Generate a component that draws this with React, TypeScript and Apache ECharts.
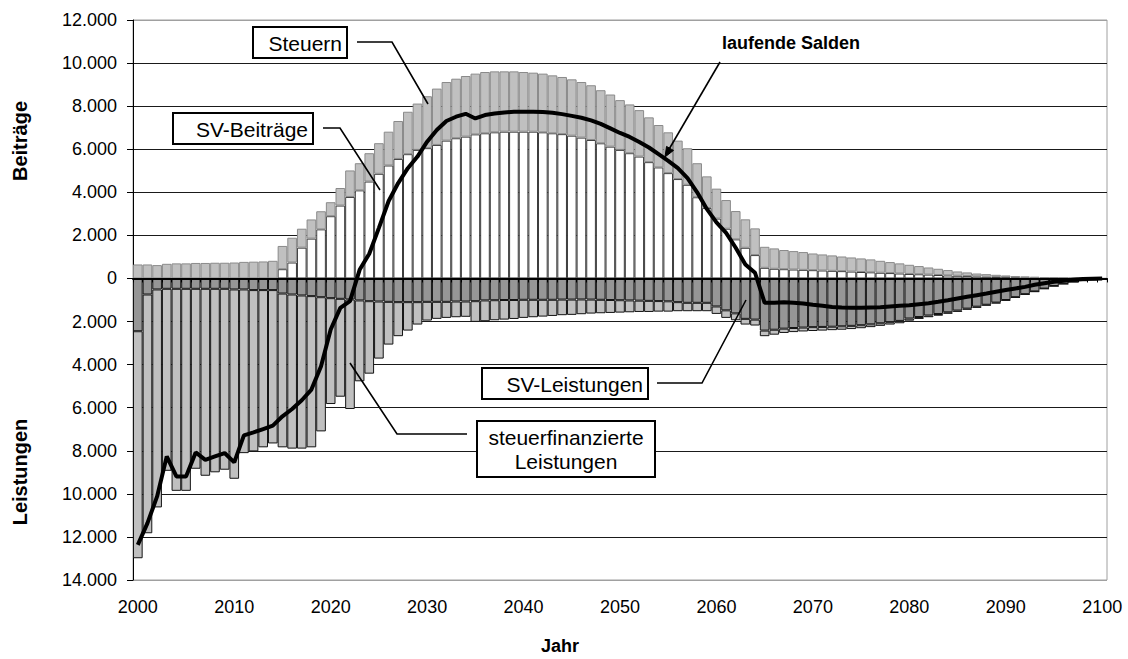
import React, { useEffect, useRef } from "react";
import * as echarts from "echarts";

const years: string[] = Array.from({ length: 101 }, (_, i) => String(2000 + i));

// SV-Beiträge (white, positive)
const svBeitraege = [
  0, 0, 0, 0, 0, 0, 0, 0, 0, 0,
  0, 0, 0, 0, 0, 430, 740, 1430, 1850, 2280,
  2890, 3385, 3785, 4090, 4500, 4860, 5245, 5550, 5770, 5970,
  6050, 6200, 6400, 6510, 6585, 6690, 6740, 6785, 6815, 6815,
  6815, 6815, 6785, 6740, 6700, 6630, 6540, 6430, 6275, 6120,
  5970, 5815, 5660, 5400, 5155, 4890, 4615, 4350, 3770, 3275,
  2780, 2310, 1815, 1425, 1085, 495, 450, 430, 415, 400,
  385, 370, 355, 340, 320, 300, 285, 265, 250, 230,
  210, 195, 180, 160, 140, 125, 110, 95, 80, 70,
  60, 50, 40, 30, 25, 20, 15, 10, 8, 5,
  0,
];

// Steuern (light grey, positive, on top of SV-Beiträge)
const steuern = [
  650, 650, 620, 680, 700, 700, 720, 720, 730, 730,
  740, 770, 780, 790, 820, 1080, 1150, 880, 890, 840,
  650, 815, 1230, 1260, 1315, 1420, 1570, 1760, 1970, 2150,
  2410, 2615, 2720, 2765, 2815, 2820, 2845, 2830, 2800, 2800,
  2770, 2740, 2725, 2690, 2655, 2615, 2580, 2540, 2465, 2420,
  2310, 2265, 2155, 2080, 1970, 1895, 1785, 1695, 1580, 1465,
  1390, 1330, 1315, 1320, 1240, 975, 945, 890, 855, 825,
  775, 745, 715, 680, 655, 630, 600, 555, 510, 470,
  425, 380, 330, 290, 250, 200, 170, 135, 120, 100,
  80, 60, 50, 45, 35, 25, 15, 10, 5, 3,
  0,
];

// SV-Leistungen (dark grey, negative)
const svLeistungen = [
  -2450, -745, -510, -480, -480, -480, -480, -480, -480, -480,
  -510, -510, -540, -540, -540, -700, -745, -790, -820, -870,
  -915, -945, -975, -1020, -1055, -1070, -1085, -1100, -1100, -1100,
  -1085, -1085, -1085, -1070, -1070, -1055, -1020, -1010, -1000, -1000,
  -990, -990, -990, -990, -980, -980, -975, -980, -990, -1000,
  -1010, -1020, -1030, -1040, -1050, -1060, -1100, -1130, -1130, -1130,
  -1300, -1480, -1620, -1875, -1910, -2420, -2380, -2330, -2300, -2280,
  -2260, -2250, -2240, -2220, -2200, -2170, -2130, -2080, -2030, -1970,
  -1860, -1790, -1720, -1650, -1570, -1490, -1400, -1310, -1220, -1120,
  -1000, -870, -730, -600, -470, -350, -250, -160, -100, -60,
  -30,
];

// steuerfinanzierte Leistungen (light grey, negative, below SV-Leistungen)
const steuerfinLeistungen = [
  -10540, -11085, -10120, -8450, -9380, -9380, -8355, -8680, -8520, -8400,
  -8790, -7600, -7490, -7300, -7120, -7140, -7155, -7110, -7020, -6230,
  -4915, -4545, -5085, -3755, -3365, -2650, -1985, -1580, -1320, -1040,
  -870, -790, -745, -730, -710, -960, -965, -930, -910, -880,
  -840, -810, -780, -750, -725, -710, -685, -650, -625, -600,
  -575, -550, -525, -515, -490, -480, -420, -390, -390, -390,
  -345, -350, -320, -265, -275, -260, -230, -200, -190, -180,
  -180, -170, -160, -160, -150, -140, -130, -120, -110, -110,
  -100, -90, -80, -80, -70, -60, -50, -50, -40, -40,
  -30, -20, -20, -20, -10, -10, -5, -5, 0, 0,
  0,
];

// laufende Salden (black line)
const salden = [
  -12370, -11360, -10120, -8260, -9190, -9190, -8075, -8420, -8260, -8105,
  -8540, -7285, -7145, -6990, -6835, -6400, -6060, -5655, -5160, -4075,
  -2370, -1365, -1055, 400, 1150, 2350, 3585, 4430, 5120, 5660,
  6350, 6890, 7310, 7510, 7645, 7430, 7585, 7660, 7710, 7740,
  7740, 7740, 7725, 7690, 7630, 7550, 7460, 7340, 7180, 6970,
  6755, 6570, 6340, 6080, 5770, 5460, 5120, 4660, 4000, 3230,
  2600, 2120, 1425, 650, 265, -1130, -1130, -1100, -1130, -1160,
  -1225, -1270, -1320, -1345, -1365, -1365, -1350, -1335, -1300, -1270,
  -1240, -1195, -1150, -1085, -1010, -930, -850, -775, -700, -620,
  -540, -465, -390, -295, -225, -155, -105, -60, -30, -15,
  0,
];

const yTicks = [-14000, 12000, 2000];

const FONT = "Liberation Sans, Arial, sans-serif";

function fmt(v: number): string {
  return String(Math.abs(v)).replace(/\B(?=(\d{3})+(?!\d))/g, ".");
}

function box(x: number, y: number, w: number, h: number) {
  return {
    type: "rect",
    shape: { x, y, width: w, height: h },
    style: { fill: "#fff", stroke: "#000", lineWidth: 2 },
    z: 20,
  };
}

function label(text: string, x: number, y: number, align: string, extra: any = {}) {
  return {
    type: "text",
    x,
    y,
    z: 21,
    style: {
      text,
      fill: "#000",
      font: `21px ${FONT}`,
      align,
      verticalAlign: "middle",
      ...extra,
    },
  };
}

function leader(points: number[][]) {
  return {
    type: "polyline",
    shape: { points },
    style: { stroke: "#000", lineWidth: 1.6, fill: null },
    z: 20,
  };
}

export default function App() {
  const ref = useRef<HTMLDivElement>(null);

  useEffect(() => {
    if (!ref.current) return;
    const chart = echarts.init(ref.current, undefined, { renderer: "svg" });

    const splitColors = ["#a0a0a0"];
    for (let i = 0; i < 12; i++) splitColors.push("#1a1a1a");
    splitColors.push("#a0a0a0");

    const option: any = {
      animation: false,
      backgroundColor: "#fff",
      grid: {
        left: 133,
        right: 21,
        top: 20,
        bottom: 79,
        show: true,
        borderColor: "#a0a0a0",
        borderWidth: 1,
        containLabel: false,
      },
      xAxis: [
        {
          type: "category",
          data: years,
          boundaryGap: true,
          axisLine: { show: false, onZero: false },
          axisTick: { show: false },
          axisLabel: {
            interval: 9,
            fontSize: 18,
            color: "#000",
            fontFamily: FONT,
            margin: 18,
          },
          splitLine: { show: false },
        },
        {
          type: "category",
          data: years,
          position: "bottom",
          boundaryGap: true,
          axisLine: { show: true, onZero: true, lineStyle: { color: "#000", width: 2 } },
          axisTick: { show: true, interval: 0, length: 4, lineStyle: { color: "#000" } },
          axisLabel: { show: false },
          splitLine: { show: false },
          z: 3,
        },
      ],
      yAxis: {
        type: "value",
        min: yTicks[0],
        max: yTicks[1],
        interval: yTicks[2],
        axisLine: { show: true, lineStyle: { color: "#000", width: 1 } },
        axisTick: { show: true, length: 6, lineStyle: { color: "#000" } },
        axisLabel: {
          formatter: (v: number) => fmt(v),
          fontSize: 18,
          color: "#000",
          fontFamily: FONT,
          margin: 16,
        },
        splitLine: { show: true, lineStyle: { color: splitColors, width: 1 } },
      },
      series: [
        {
          name: "SV-Beiträge",
          type: "bar",
          stack: "s",
          xAxisIndex: 0,
          barCategoryGap: "0%",
          data: svBeitraege,
          itemStyle: { color: "#ffffff", borderColor: "#3a3a3a", borderWidth: 1 },
        },
        {
          name: "Steuern",
          type: "bar",
          stack: "s",
          xAxisIndex: 0,
          barCategoryGap: "0%",
          data: steuern,
          itemStyle: { color: "#c0c0c0", borderColor: "#8a8a8a", borderWidth: 1 },
        },
        {
          name: "SV-Leistungen",
          type: "bar",
          stack: "s",
          xAxisIndex: 0,
          barCategoryGap: "0%",
          data: svLeistungen,
          itemStyle: { color: "#969696", borderColor: "#141414", borderWidth: 1 },
        },
        {
          name: "steuerfinanzierte Leistungen",
          type: "bar",
          stack: "s",
          xAxisIndex: 0,
          barCategoryGap: "0%",
          data: steuerfinLeistungen,
          itemStyle: { color: "#c0c0c0", borderColor: "#141414", borderWidth: 1 },
        },
        {
          name: "laufende Salden",
          type: "line",
          xAxisIndex: 0,
          data: salden,
          symbol: "none",
          smooth: false,
          lineStyle: { color: "#000", width: 4 },
          z: 10,
        },
      ],
      graphic: [
        // Steuern
        leader([[357, 42], [392, 42], [428, 104]]),
        box(253, 27, 94, 31),
        label("Steuern", 342, 43, "right"),
        // SV-Beiträge
        leader([[323, 128], [340, 128], [380, 190]]),
        box(173, 113, 140, 31),
        label("SV-Beiträge", 308, 129, "right"),
        // laufende Salden
        leader([[720, 62], [668, 151]]),
        {
          type: "polygon",
          shape: { points: [[665, 157], [673.5, 150.4], [666.5, 146.4]] },
          style: { fill: "#000", stroke: "#000", lineWidth: 1 },
          z: 20,
        },
        label("laufende Salden", 722, 43, "left", { font: `bold 18px ${FONT}` }),
        // SV-Leistungen
        leader([[657, 383], [702, 383], [746, 300]]),
        box(482, 368, 166, 31),
        label("SV-Leistungen", 643, 384, "right"),
        // steuerfinanzierte Leistungen
        leader([[467, 434], [397, 434], [350, 363]]),
        box(477, 421, 178, 56),
        label("steuerfinanzierte\nLeistungen", 566, 449.5, "center", { lineHeight: 24 }),
        // axis titles
        {
          type: "text",
          x: 20,
          y: 141,
          rotation: Math.PI / 2,
          style: {
            text: "Beiträge",
            fill: "#000",
            font: `bold 20px ${FONT}`,
            align: "center",
            verticalAlign: "middle",
          },
        },
        {
          type: "text",
          x: 20,
          y: 472,
          rotation: Math.PI / 2,
          style: {
            text: "Leistungen",
            fill: "#000",
            font: `bold 20px ${FONT}`,
            align: "center",
            verticalAlign: "middle",
          },
        },
        {
          type: "text",
          x: 560,
          y: 646,
          style: {
            text: "Jahr",
            fill: "#000",
            font: `bold 18px ${FONT}`,
            align: "center",
            verticalAlign: "middle",
          },
        },
      ],
    };

    chart.setOption(option);
    return () => chart.dispose();
  }, []);

  return (
    <div
      ref={ref}
      style={{ position: "fixed", left: 0, top: 0, width: 1128, height: 659, background: "#fff" }}
    />
  );
}
